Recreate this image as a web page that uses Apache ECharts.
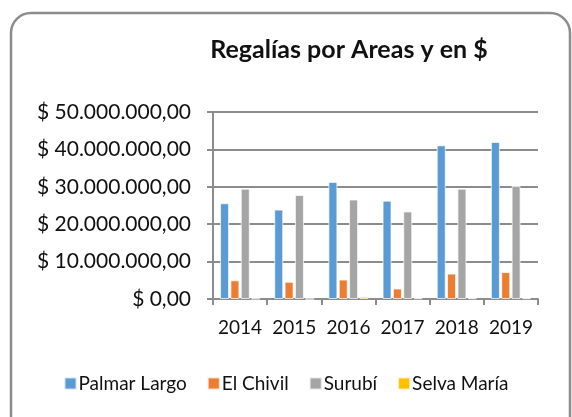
<!DOCTYPE html>
<html>
<head>
    <meta charset="utf-8">
    <title>Regalías por Areas</title>
    <script src="https://cdn.jsdelivr.net/npm/echarts@6/dist/echarts.min.js"></script>
    <style>
        html, body { margin: 0; padding: 0; background: #fff; }
        #main { width: 572px; height: 417px; }
    </style>
</head>
<body>
<div id="main"></div>
<script>
    var years = ['2014', '2015', '2016', '2017', '2018', '2019'];
    var palmarLargo = [25600000, 23900000, 31300000, 26300000, 41100000, 42000000];
    var elChivil = [5000000, 4600000, 5200000, 2800000, 6800000, 7200000];
    var surubi = [29500000, 27800000, 26600000, 23400000, 29500000, 30200000];
    var selvaMaria = [100000, 0, 600000, 200000, 200000, 200000];

    // formato moneda: $ 10.000.000,00
    function moneda(v) {
        var s = Math.round(v).toString().replace(/\B(?=(\d{3})+(?!\d))/g, '.');
        return '$ ' + s + ',00';
    }

    var fuente = 'Lato, "Open Sans", sans-serif';

    function serie(nombre, datos, color) {
        return {
            name: nombre,
            type: 'bar',
            data: datos,
            barWidth: 9,
            barGap: '15%',
            itemStyle: {
                color: color,
                borderColor: 'rgba(255,255,255,0.7)',
                borderWidth: 1
            }
        };
    }

    var myChart = echarts.init(document.getElementById('main'));

    var option = {
        animation: false,
        title: {
            text: 'Regalías por Areas y en $',
            left: 344,
            textAlign: 'center',
            top: 32,
            textStyle: { fontFamily: fuente, fontSize: 25, fontWeight: 'bold', color: '#111' }
        },
        graphic: [{
            type: 'rect',
            shape: { x: 11, y: 13, width: 559, height: 430, r: 20 },
            style: { fill: 'none', stroke: '#8c8c8c', lineWidth: 2.5 },
            z: -1
        }],
        legend: {
            bottom: 19,
            left: 'center',
            itemWidth: 12,
            itemHeight: 12,
            itemGap: 20,
            icon: 'rect',
            textStyle: { fontFamily: fuente, fontSize: 19, color: '#111', padding: [0, 0, 0, -3] },
            data: ['Palmar Largo', 'El Chivil', 'Surubí', 'Selva María']
        },
        grid: { left: 213, right: 34, top: 112, bottom: 118 },
        xAxis: {
            type: 'category',
            data: years,
            axisLine: { lineStyle: { color: '#8c8c8c', width: 2 } },
            axisTick: { show: true, length: 6, lineStyle: { color: '#8c8c8c', width: 2 } },
            axisLabel: { interval: 0, fontFamily: fuente, fontSize: 19, color: '#111', margin: 19 }
        },
        yAxis: {
            type: 'value',
            min: 0,
            max: 50000000,
            interval: 10000000,
            axisLine: { show: true, lineStyle: { color: '#8c8c8c', width: 2 } },
            axisTick: { show: true, length: 6, lineStyle: { color: '#8c8c8c', width: 2 } },
            splitLine: { lineStyle: { color: '#8c8c8c', width: 2 } },
            axisLabel: { fontFamily: fuente, fontSize: 21, color: '#111', margin: 22, formatter: moneda }
        },
        series: [
            serie('Palmar Largo', palmarLargo, '#5b9bd5'),
            serie('El Chivil', elChivil, '#ed7d31'),
            serie('Surubí', surubi, '#a5a5a5'),
            serie('Selva María', selvaMaria, '#ffc000')
        ]
    };

    myChart.setOption(option);
</script>
</body>
</html>
